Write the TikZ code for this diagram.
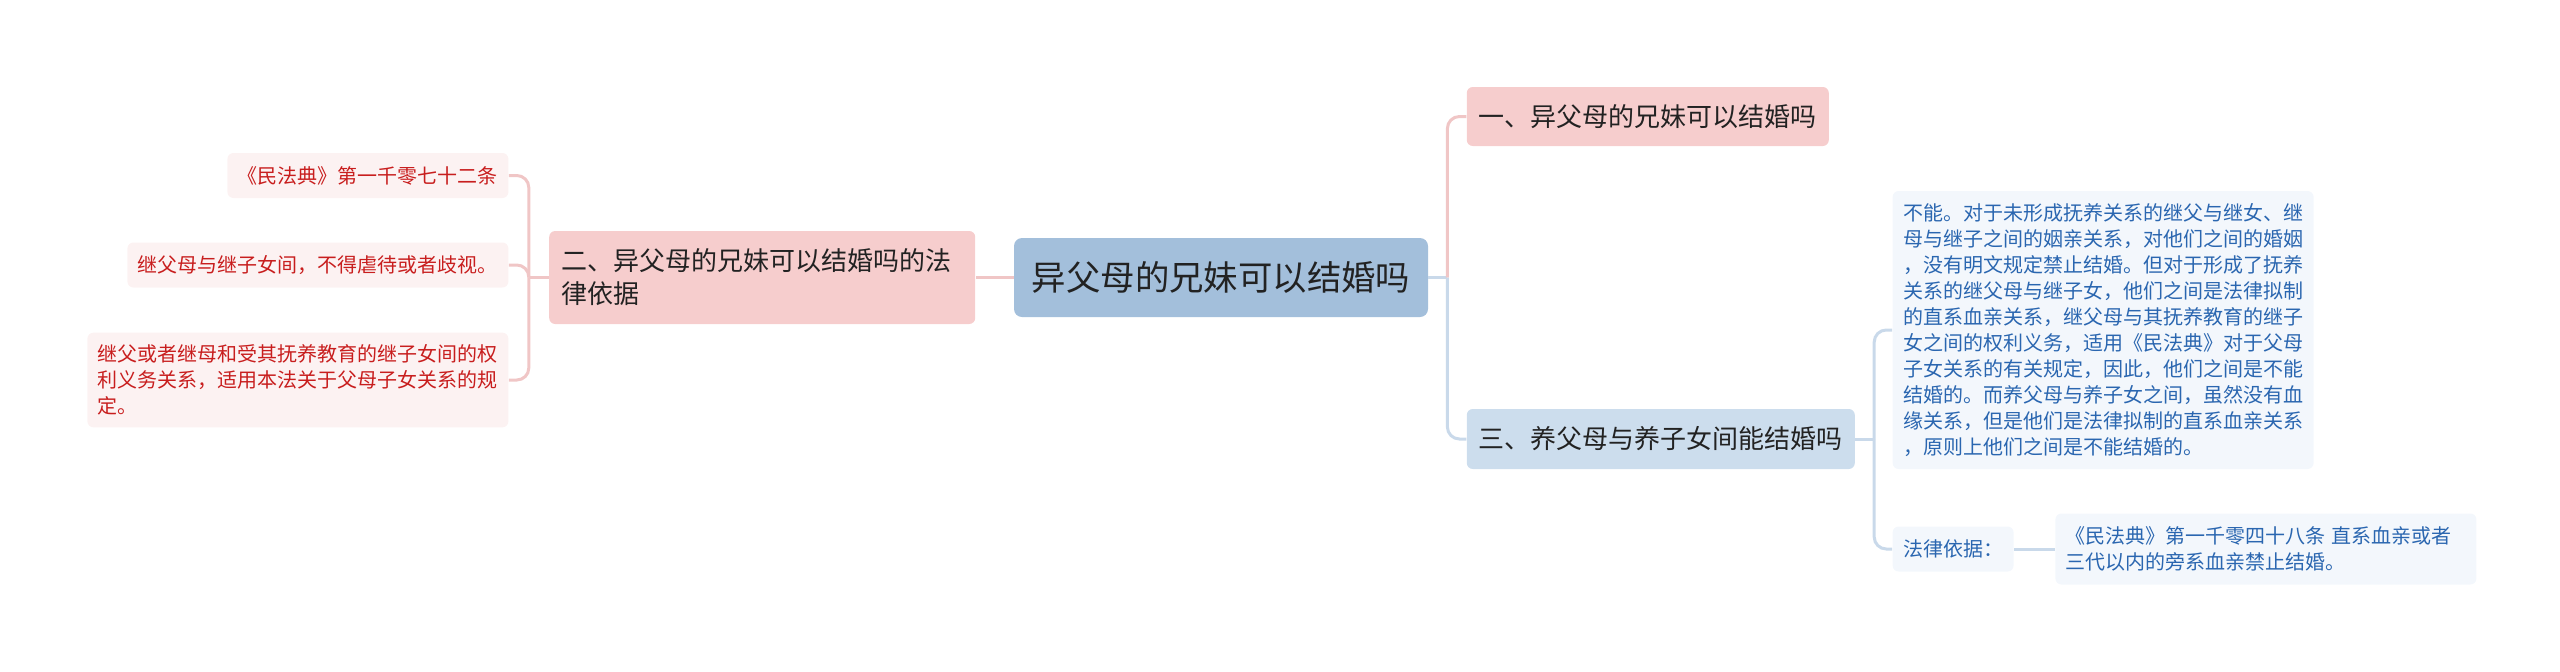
\documentclass[tikz,border=0pt]{standalone}
\usepackage{fontspec}
\setmainfont{Noto Sans CJK SC}
\usetikzlibrary{positioning}

\definecolor{rootfill}{HTML}{A3BFDB}
\definecolor{pinkfill}{HTML}{F6CDCD}
\definecolor{bluefill}{HTML}{CCDDED}
\definecolor{redleaffill}{HTML}{FCF2F2}
\definecolor{blueleaffill}{HTML}{F3F7FC}
\definecolor{redtext}{HTML}{C81E1E}
\definecolor{bluetext}{HTML}{2A66B0}
\definecolor{darktext}{HTML}{222222}
\definecolor{pinkwire}{HTML}{F0C6C6}
\definecolor{bluewire}{HTML}{C9D9EA}

\begin{document}
\begin{tikzpicture}[
    node distance=19pt,
    rootbox/.style={rectangle, fill=rootfill, rounded corners=4pt,
                    minimum width=207pt, minimum height=39.5pt,
                    font=\fontsize{17.2pt}{20pt}\selectfont, text=darktext},
    pinkbox/.style={rectangle, fill=pinkfill, rounded corners=3pt,
                    inner xsep=6pt, font=\fontsize{13pt}{16.5pt}\selectfont, text=darktext},
    bluebox/.style={pinkbox, fill=bluefill},
    redleaf/.style={rectangle, fill=redleaffill, rounded corners=3pt,
                    inner xsep=5.25pt, inner ysep=6pt, minimum height=22.5pt,
                    font=\fontsize{10pt}{13pt}\selectfont, text=redtext},
    blueleaf/.style={redleaf, fill=blueleaffill, text=bluetext},
    pinkwire/.style={draw=pinkwire, line width=1.5pt, rounded corners=6pt},
    bluewire/.style={draw=bluewire, line width=1.5pt, rounded corners=6pt}
]
  \useasboundingbox (0,0) rectangle (1280pt,-335.5pt);

  % centre topic
  \node[rootbox] (root) at (610.5pt,-138.75pt) {异父母的兄妹可以结婚吗};

  % right: first and third branch
  \node[pinkbox, minimum height=29.5pt, right=of root, yshift=80.5pt] (one) {一、异父母的兄妹可以结婚吗};
  \node[bluebox, minimum height=30pt, right=of root, yshift=-80.75pt] (three) {三、养父母与养子女间能结婚吗};

  % left: second branch
  \node[pinkbox, text width=201pt, align=left, minimum height=46.5pt, left=of root] (two)
    {二、异父母的兄妹可以结婚吗的法\\律依据};

  % leaves of the second branch
  \node[redleaf, left=20pt of two, yshift=51pt] (law1072) {《民法典》第一千零七十二条};
  \node[redleaf, left=20pt of two, yshift=6.25pt] (nodiscr) {继父母与继子女间，不得虐待或者歧视。};
  \node[redleaf, text width=200pt, align=left, left=20pt of two, yshift=-51.25pt] (rights)
    {继父或者继母和受其抚养教育的继子女间的权\\利义务关系，适用本法关于父母子女关系的规\\定。};

  % leaves of the third branch
  \node[blueleaf, text width=200pt, align=left, minimum height=139pt, right=18.5pt of three, yshift=54.5pt] (answer)
    {不能。对于未形成抚养关系的继父与继女、继\\
     母与继子之间的姻亲关系，对他们之间的婚姻\\
     ，没有明文规定禁止结婚。但对于形成了抚养\\
     关系的继父母与继子女，他们之间是法律拟制\\
     的直系血亲关系，继父母与其抚养教育的继子\\
     女之间的权利义务，适用《民法典》对于父母\\
     子女关系的有关规定，因此，他们之间是不能\\
     结婚的。而养父母与养子女之间，虽然没有血\\
     缘关系，但是他们是法律拟制的直系血亲关系\\
     ，原则上他们之间是不能结婚的。};
  \node[blueleaf, right=18.5pt of three, yshift=-55pt] (basis) {法律依据：};
  \node[blueleaf, text width=200pt, align=left, minimum height=35.5pt, right=20.5pt of basis] (law1048)
    {《民法典》第一千零四十八条\hspace{0.3em}直系血亲或者\\三代以内的旁系血亲禁止结婚。};

  % forks
  \coordinate[right=9.5pt of root] (rootfork);
  \coordinate[left=10pt of two] (twofork);
  \coordinate[right=9.5pt of three] (threefork);

  \draw[bluewire] (root.east) -- (rootfork);
  \draw[pinkwire] (rootfork) |- (one);
  \draw[bluewire] (rootfork) |- (three);
  \draw[pinkwire] (root) -- (two);

  \draw[pinkwire] (two.west) -- (twofork);
  \draw[pinkwire] (twofork) |- (law1072);
  \draw[pinkwire] (twofork) |- (nodiscr);
  \draw[pinkwire] (twofork) |- (rights);

  \draw[bluewire] (three.east) -- (threefork);
  \draw[bluewire] (threefork) |- (answer);
  \draw[bluewire] (threefork) |- (basis);
  \draw[bluewire] (basis) -- (law1048);
\end{tikzpicture}
\end{document}
